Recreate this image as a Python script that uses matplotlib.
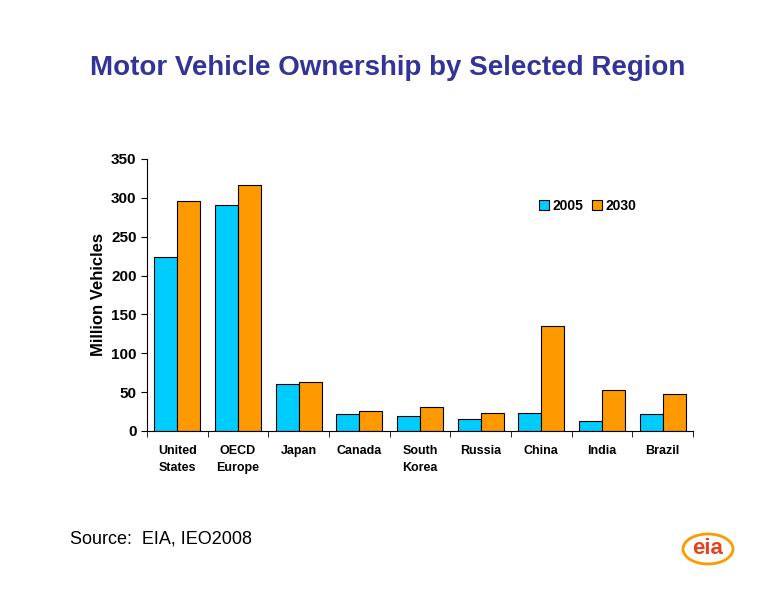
import numpy as np
import matplotlib.pyplot as plt
from matplotlib.patches import Ellipse

plt.rcParams["font.family"] = ["Liberation Sans", "DejaVu Sans"]

regions = ["United\nStates", "OECD\nEurope", "Japan", "Canada", "South\nKorea",
           "Russia", "China", "India", "Brazil"]
vals_2005 = [224, 291, 60, 22, 19, 16, 23, 13, 22]
vals_2030 = [296, 317, 63, 26, 31, 23, 135, 53, 47]

fig = plt.figure(figsize=(7.76, 6.0), dpi=100)
ax = fig.add_axes([147 / 776, 1 - 431 / 600, 546 / 776, 272 / 600])

x = np.arange(len(regions))
w = 0.38
ax.bar(x - w / 2, vals_2005, w, color="#00CCFF", edgecolor="black", lw=0.8, label="2005")
ax.bar(x + w / 2, vals_2030, w, color="#FF9900", edgecolor="black", lw=0.8, label="2030")

ax.set_xlim(-0.5, len(regions) - 0.5)
ax.set_ylim(0, 350)
ax.set_yticks(range(0, 351, 50))
ax.set_xticks(x)
ax.set_xticklabels(regions, fontsize=9, fontweight="bold", linespacing=1.6)
ax.tick_params(axis="y", labelsize=11, direction="out", length=4)
for lab in ax.get_yticklabels():
    lab.set_fontweight("bold")
ax.tick_params(axis="x", length=0, pad=10)
ax.set_xticks(np.arange(len(regions) + 1) - 0.5, minor=True)
ax.tick_params(axis="x", which="minor", length=4, direction="out")
ax.spines["top"].set_visible(False)
ax.spines["right"].set_visible(False)
ax.set_ylabel("Million Vehicles", fontsize=12, fontweight="bold")

ax.legend(loc="upper right", bbox_to_anchor=(0.92, 0.9), frameon=False, ncol=2,
          prop={"weight": "bold", "size": 10}, handlelength=0.7, handleheight=0.7,
          columnspacing=0.6, handletextpad=0.3)

fig.text(0.5, 1 - 68 / 600, "Motor Vehicle Ownership by Selected Region",
         ha="center", va="center", fontsize=20, fontweight="bold", color="#333399")
fig.text(70 / 776, 1 - 539 / 600, "Source:  EIA, IEO2008", fontsize=13, va="center")

# simple logo
fig.patches.append(Ellipse((708 / 776, 1 - 549 / 600), 50 / 776, 30 / 600,
                           transform=fig.transFigure, facecolor="none",
                           edgecolor="#FF9900", lw=2))
fig.text(708 / 776, 1 - 549 / 600, "eia", ha="center", va="center",
         fontsize=16, fontweight="bold", color="#E8401C")

fig.savefig("out.png", dpi=100)
